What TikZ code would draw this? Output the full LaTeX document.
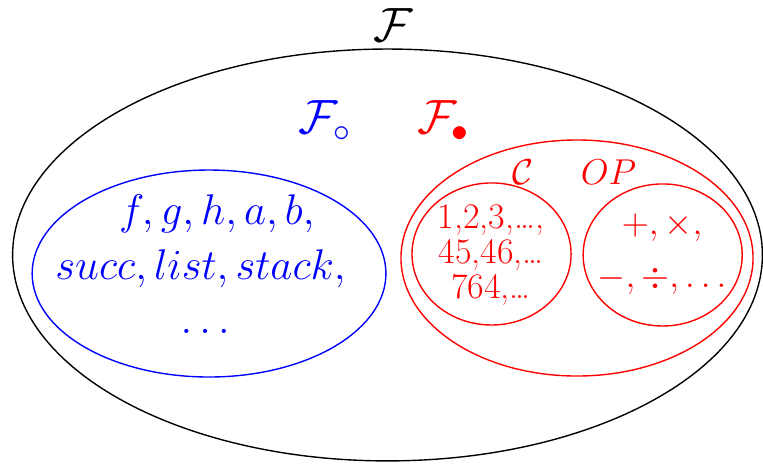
\RequirePackage{fix-cm}
\documentclass[tikz,border=0pt]{standalone}
\usepackage{amsmath}
\usepackage{amssymb}
\usepackage{xcolor}

\begin{document}
\begin{tikzpicture}[scale=1,
    setline/.style={semithick},
    biglabel/.style={font=\huge,inner sep=1pt},
    redtext/.style={red,font=\fontsize{15.5}{15}\selectfont,align=center},
    bluetext/.style={blue,font=\fontsize{18.5}{24}\selectfont,align=center}]
  \useasboundingbox (0,0) rectangle (11.56,7.015);
  % Whole set F
  \draw[setline] (5.871,3.152) ellipse (5.68 and 3.12);
  \node[biglabel] (F) at (5.955,6.63) {$\mathcal{F}$};
  % Blue part
  \draw[setline,blue] (3.167,2.871) ellipse (2.68 and 1.568);
  \node[biglabel,blue] (Fo) at (4.92,5.18) {$\mathcal{F}_{\circ}$};
  \node[bluetext] (blueset) at (3.04,3.02)
    {\hspace*{14pt}$f,g,h,a,b,$\\ $succ,list,stack,$\\[-1pt] \hspace*{4pt}$\ldots$};
  % Red part
  \draw[setline,red] (8.742,3.106) ellipse (2.667 and 1.788);
  \node[biglabel,red] (Fb) at (6.72,5.18) {$\mathcal{F}_{\bullet}$};
  % Constants C
  \draw[setline,red] (7.447,3.167) ellipse (1.205 and 1.076);
  \node[redtext] (C) at (7.92,4.41) {$\mathcal{C}$};
  \node[redtext] (consts) at (7.44,3.15)
    {1,2,3,\ldots,\\ 45,46,\ldots\\ 764,\ldots};
  % Operators OP
  \draw[setline,red] (10.04,3.152) ellipse (1.205 and 1.076);
  \node[redtext] (OP) at (9.22,4.41) {$OP$};
  \node[redtext] (ops) at (10.03,3.17)
    {$+,\times,$\\[8pt] $-,\div,\ldots$};
\end{tikzpicture}
\end{document}
